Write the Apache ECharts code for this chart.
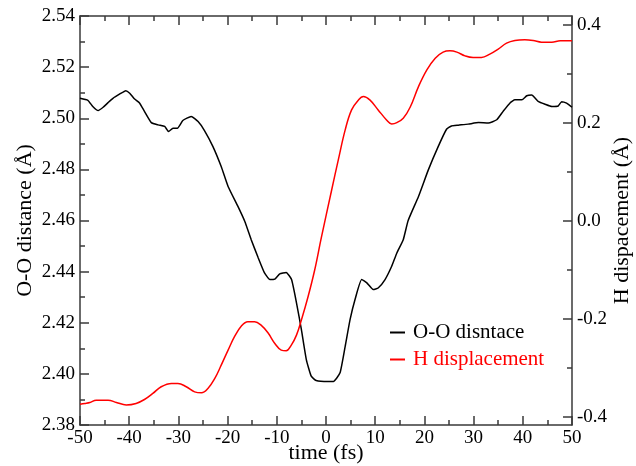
<!DOCTYPE html>
<html>
<head>
<meta charset="utf-8">
<title>O-O distance and H displacement</title>
<script src="https://cdn.jsdelivr.net/npm/echarts@6.0.0/dist/echarts.min.js"></script>
<style>
  html, body { margin: 0; padding: 0; background: #fff; }
  #chart { width: 636px; height: 466px; }
</style>
</head>
<body>
<div id="chart"></div>
<script>
// O-O distance (left axis)
var ooTime = [
  -50, -48.4, -47.4, -46.3, -45.3, -44.3, -43.3, -41.9, -40.7, -39.9,
  -38.9, -37.9, -36.9, -35.5, -34.1, -32.8, -32.0, -31.1, -30.2, -29.1,
  -27.4, -26.0, -24.7, -23.0, -21.3, -19.9, -17.9, -16.5, -15.2, -13.8,
  -12.5, -11.4, -10.4, -9.4, -8.1, -7.0, -6.0, -5.0, -4.0, -3.0,
  -2.0, 0.4, 1.5, 2.85, 3.9, 4.9, 5.9, 7.25, 8.3, 9.6,
  10.6, 12.0, 13.35, 14.4, 15.7, 16.7, 18.8, 20.8, 22.8, 24.5,
  25.5, 26.9, 28.9, 31.0, 33.0, 34.7, 36.0, 37.4, 38.4, 39.8,
  40.8, 41.8, 43.2, 44.5, 45.9, 47.2, 47.9, 48.9, 50
]
var ooDist = [
  2.5078, 2.5070, 2.5046, 2.5030, 2.5043, 2.5061, 2.5078, 2.5095, 2.5108, 2.5098,
  2.5075, 2.5060, 2.5027, 2.4983, 2.4974, 2.4968, 2.4948, 2.4961, 2.4961, 2.4991,
  2.5007, 2.4987, 2.4952, 2.4890, 2.4811, 2.4733, 2.4655, 2.4596, 2.4525, 2.4455,
  2.4395, 2.4369, 2.4371, 2.4391, 2.4397, 2.4369, 2.4278, 2.4173, 2.4056, 2.3991,
  2.3974, 2.3970, 2.3970, 2.4004, 2.4108, 2.4213, 2.4291, 2.4369, 2.4356, 2.4330,
  2.4336, 2.4369, 2.4421, 2.4473, 2.4525, 2.4600, 2.4694, 2.4798, 2.4889, 2.4957,
  2.4970, 2.4973, 2.4977, 2.4983, 2.4981, 2.4994, 2.5027, 2.5060, 2.5072, 2.5072,
  2.5088, 2.5091, 2.5065, 2.5055, 2.5046, 2.5048, 2.5065, 2.5059, 2.5043
]

// H displacement (right axis)
var hTime = [
  -50, -49, -48, -46.7, -44.3, -42.6, -40.6, -38.6, -36.9, -35.2,
  -33.5, -31.4, -30.1, -28.4, -26.7, -25.3, -24, -22.6, -21.3, -19.9,
  -18.6, -17.2, -15.9, -14.5, -13.2, -11.8, -10.4, -9.1, -8.1, -7.05,
  -6, -5, -3.65, -2.3, -0.95, 1.15, 2.5, 3.9, 5.2, 6.6,
  7.6, 8.9, 10.6, 12.3, 13.35, 14.4, 15.7, 17.1, 18.8, 20.5,
  22.2, 23.8, 25.2, 26.6, 28.25, 29.9, 31.6, 33.3, 35, 36.7,
  38.4, 40.4, 42.1, 43.8, 45.9, 47.6, 50
]
var hDisp = [
  -0.3736, -0.372, -0.370, -0.3654, -0.3654, -0.370, -0.375, -0.372, -0.364, -0.3517,
  -0.338, -0.3313, -0.3313, -0.338, -0.3484, -0.3504, -0.3415, -0.321, -0.294, -0.2633,
  -0.236, -0.2143, -0.2055, -0.2055, -0.2123, -0.228, -0.2497, -0.2633, -0.2647, -0.253,
  -0.2327, -0.202, -0.1546, -0.100, -0.034, 0.0632, 0.1245, 0.1857, 0.2265, 0.2469,
  0.2537, 0.2469, 0.2265, 0.2061, 0.198, 0.2006, 0.2096, 0.232, 0.2741, 0.3082,
  0.332, 0.3443, 0.3469, 0.3443, 0.3367, 0.3333, 0.3333, 0.3402, 0.3504, 0.3626,
  0.368, 0.3694, 0.368, 0.3647, 0.3647, 0.3673, 0.3673
]

var rightLabels = [-0.4, -0.2, 0, 0.2, 0.4]
var rightMinor = [-0.3, -0.1, 0.1, 0.3]

var serif = 'Liberation Serif'
var axisColor = '#3a3a3a'

const zip = (xs, ys) => xs.map((x, i) => [x, ys[i]])

const tickStyle = { color: axisColor, width: 1.5 }
const labelStyle = { fontFamily: serif, fontSize: 19, color: '#000' }
const nameStyle = { fontFamily: serif, fontSize: 22, color: '#000' }

const chart = echarts.init(document.getElementById('chart'))

chart.setOption({
  animation: false,
  backgroundColor: '#fff',
  textStyle: { fontFamily: serif },
  grid: {
    left: 80,
    right: 64,
    top: 16,
    bottom: 41,
    outerBoundsMode: 'none',
  },
  legend: {
    orient: 'vertical',
    left: 385,
    top: 317,
    icon: 'rect',
    itemWidth: 15,
    itemHeight: 2,
    itemGap: 6,
    textStyle: {
      fontFamily: serif,
      fontSize: 21,
      padding: [0, 0, 0, 3],
    },
    data: [
      { name: 'O-O disntace', textStyle: { color: '#000' } },
      { name: 'H displacement', textStyle: { color: '#ff0000' } },
    ],
  },
  xAxis: [
    {
      type: 'value',
      min: -50,
      max: 50,
      interval: 10,
      name: 'time (fs)',
      nameLocation: 'middle',
      nameGap: 17,
      nameMoveOverlap: false,
      nameTextStyle: nameStyle,
      axisLine: { onZero: false, lineStyle: tickStyle },
      axisTick: { inside: true, length: 9, lineStyle: tickStyle },
      minorTick: { show: true, splitNumber: 2, length: 5, lineStyle: tickStyle },
      axisLabel: Object.assign({ margin: 4 }, labelStyle),
      splitLine: { show: false },
    },
    {
      type: 'value',
      position: 'top',
      min: -50,
      max: 50,
      interval: 10,
      axisLine: { onZero: false, lineStyle: tickStyle },
      axisTick: { inside: true, length: 9, lineStyle: tickStyle },
      minorTick: { show: true, splitNumber: 2, length: 5, lineStyle: tickStyle },
      axisLabel: { show: false },
      splitLine: { show: false },
    },
  ],
  yAxis: [
    {
      type: 'value',
      position: 'left',
      min: 2.38,
      max: 2.54,
      interval: 0.02,
      name: 'O-O distance (Å)',
      nameLocation: 'middle',
      nameRotate: 90,
      nameGap: 44,
      nameMoveOverlap: false,
      nameTextStyle: nameStyle,
      axisLine: { show: true, onZero: false, lineStyle: tickStyle },
      axisTick: { show: true, inside: true, length: 9, lineStyle: tickStyle },
      minorTick: { show: true, splitNumber: 2, length: 5, lineStyle: tickStyle },
      axisLabel: Object.assign({ margin: 5, formatter: (v) => v.toFixed(2) }, labelStyle),
      splitLine: { show: false },
    },
    {
      type: 'value',
      position: 'right',
      min: -0.416,
      max: 0.418,
      name: 'H dispacement (Å)',
      nameLocation: 'middle',
      nameRotate: 90,
      nameGap: 39,
      nameMoveOverlap: false,
      nameTextStyle: nameStyle,
      axisLine: { show: true, onZero: false, lineStyle: tickStyle },
      axisTick: {
        show: true,
        inside: true,
        length: 9,
        customValues: rightLabels,
        lineStyle: tickStyle,
      },
      axisLabel: Object.assign({
        margin: 5,
        customValues: rightLabels,
        formatter: (v) => v.toFixed(1),
      }, labelStyle),
      splitLine: { show: false },
    },
    {
      // short ticks half way between the labelled ones
      type: 'value',
      position: 'right',
      min: -0.416,
      max: 0.418,
      axisLine: { show: false, onZero: false },
      axisTick: {
        show: true,
        inside: true,
        length: 5,
        customValues: rightMinor,
        lineStyle: tickStyle,
      },
      axisLabel: { show: false },
      splitLine: { show: false },
    },
  ],
  series: [
    {
      name: 'O-O disntace',
      type: 'line',
      xAxisIndex: 0,
      yAxisIndex: 0,
      data: zip(ooTime, ooDist),
      smooth: 0.15,
      showSymbol: false,
      color: '#000',
      lineStyle: { color: '#000', width: 1.5 },
    },
    {
      name: 'H displacement',
      type: 'line',
      xAxisIndex: 0,
      yAxisIndex: 1,
      data: zip(hTime, hDisp),
      smooth: 0.4,
      showSymbol: false,
      color: '#ff0000',
      lineStyle: { color: '#ff0000', width: 1.5 },
    },
  ],
})
</script>
</body>
</html>
